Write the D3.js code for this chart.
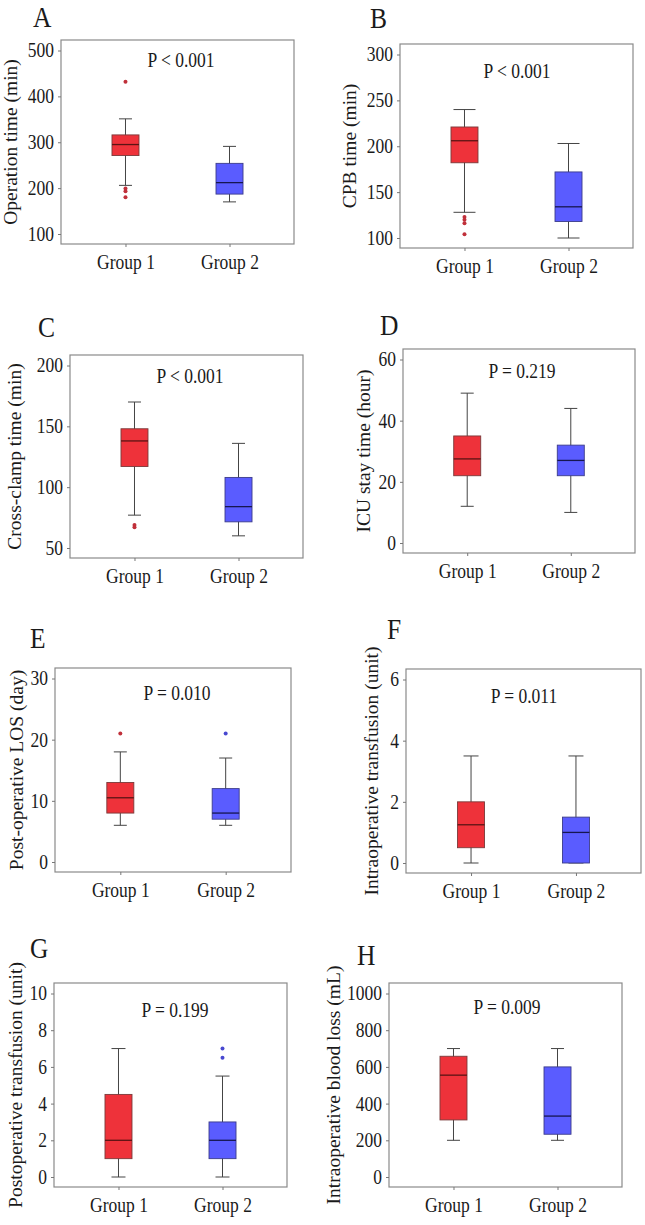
<!DOCTYPE html>
<html>
<head>
<meta charset="utf-8">
<script src="https://cdnjs.cloudflare.com/ajax/libs/d3/7.8.5/d3.min.js"></script>
<style>
  body { margin: 0; background: #fff; }
  svg text { font-family: "Liberation Serif", "Times New Roman", serif; fill: #1a1a1a; }
</style>
</head>
<body>
<div id="chart"></div>
<script>
//----------------------------------
// Data
//----------------------------------
const groups = ["Group 1", "Group 2"];
const panelLetters = ["A", "B", "C", "D", "E", "F", "G", "H"];
const yLabels = [
    "Operation time (min)",
    "CPB time (min)",
    "Cross-clamp time (min)",
    "ICU stay time (hour)",
    "Post-operative LOS (day)",
    "Intraoperative transfusion (unit)",
    "Postoperative transfusion (unit)",
    "Intraoperative blood loss (mL)"
];
const pTexts = ["P < 0.001", "P < 0.001", "P < 0.001", "P = 0.219", "P = 0.010", "P = 0.011", "P = 0.199", "P = 0.009"];
const yTicks = [
    [100, 200, 300, 400, 500],
    [100, 150, 200, 250, 300],
    [50, 100, 150, 200],
    [0, 20, 40, 60],
    [0, 10, 20, 30],
    [0, 2, 4, 6],
    [0, 2, 4, 6, 8, 10],
    [0, 200, 400, 600, 800, 1000]
];

// box statistics, [Group 1, Group 2] for each panel
const whiskerLow  = [[206, 170], [128, 100], [77, 60],   [12, 10],   [6, 6],     [0, 0],     [0, 0],   [200, 200]];
const q1          = [[271, 187], [182, 118], [117, 71.5],[22, 22],   [8, 7],     [0.5, 0],   [1, 1],   [311, 233]];
const medians     = [[295, 212], [206, 134], [138, 84],  [27.5, 27], [10.5, 8],  [1.25, 1],  [2, 2],   [555, 332]];
const q3          = [[316, 254], [221, 172], [148, 108], [35, 32],   [13, 12],   [2, 1.5],   [4.5, 3], [658, 600]];
const whiskerHigh = [[351, 291], [240, 203], [170, 136], [49, 44],   [18, 17],   [3.5, 3.5], [7, 5.5], [700, 700]];
const outliers = [
    [[432, 199, 193, 180], []],
    [[123, 120, 116, 104], []],
    [[69, 67], []],
    [[], []],
    [[21], [21]],
    [[], []],
    [[], [7, 6.5]],
    [[], []]
];

//----------------------------------
// Layout (pixels)
//----------------------------------
const frames = [
    {left: 61,  top: 40,  right: 294, bottom: 244,  letterX: 33,  letterY: 27,  pX: 181, pY: 67,   labelX: 16.5},
    {left: 400, top: 44,  right: 633, bottom: 248,  letterX: 370, letterY: 28,  pX: 517, pY: 78,   labelX: 356},
    {left: 70,  top: 355, right: 303, bottom: 558,  letterX: 38,  letterY: 337, pX: 190, pY: 383,  labelX: 21},
    {left: 403, top: 349, right: 635, bottom: 553,  letterX: 380, letterY: 335, pX: 522, pY: 378,  labelX: 370},
    {left: 55,  top: 668, right: 291, bottom: 872,  letterX: 30,  letterY: 648, pX: 177, pY: 700,  labelX: 23},
    {left: 406, top: 669, right: 641, bottom: 873,  letterX: 387, letterY: 639, pX: 524, pY: 703,  labelX: 378},
    {left: 54,  top: 983, right: 287, bottom: 1187, letterX: 30,  letterY: 958, pX: 175, pY: 1017, labelX: 21.5},
    {left: 389, top: 983, right: 622, bottom: 1187, letterX: 357, letterY: 965, pX: 507, pY: 1014, labelX: 340}
];
const capWidths = [13, 22, 13, 13, 13, 15, 14, 13];
const boxWidth = 27;
const fills = ["#ee323a", "#5a5cff"];
const strokes = ["#7a3a3a", "#3c3c8a"];
const medianColors = ["#5a1414", "#161650"];
const dotColors = ["#c0303a", "#4848d0"];
const serif = '"Liberation Serif", "Times New Roman", serif';

const svg = d3.select("#chart")
    .append("svg")
    .attr("width", 645)
    .attr("height", 1225);

// The reference type is a bit taller than it is wide: squeeze the glyphs sideways
function squeeze(sel, k) {
    sel.each(function() {
        const w = this.getComputedTextLength();
        d3.select(this)
            .attr("textLength", w * k)
            .attr("lengthAdjust", "spacingAndGlyphs");
    });
}

panelLetters.forEach((letter, i) => {
    const f = frames[i];
    const g = svg.append("g");

    const y = d3.scaleLinear()
        .domain(d3.extent(yTicks[i]))
        .range([f.bottom - 10, f.top + 10.5]);
    const x = d3.scalePoint()
        .domain(groups)
        .range([f.left, f.right])
        .padding(0.62);

    // frame
    g.append("rect")
        .attr("x", f.left).attr("y", f.top)
        .attr("width", f.right - f.left).attr("height", f.bottom - f.top)
        .attr("fill", "none")
        .attr("stroke", "#8a8a8a")
        .attr("stroke-width", 1.2);

    // axes
    g.append("g")
        .attr("transform", `translate(${f.left},0)`)
        .call(d3.axisLeft(y).tickValues(yTicks[i]).tickSize(3).tickPadding(4).tickFormat(d3.format("d")))
        .call(a => a.select(".domain").remove())
        .call(a => a.selectAll("line").attr("stroke", "#777"))
        .call(a => a.selectAll("text").style("font-size", "20px").style("font-family", serif).call(squeeze, 0.875));

    g.append("g")
        .attr("transform", `translate(0,${f.bottom})`)
        .call(d3.axisBottom(x).tickSize(3).tickPadding(8))
        .call(a => a.select(".domain").remove())
        .call(a => a.selectAll("line").attr("stroke", "#777"))
        .call(a => a.selectAll("text").style("font-size", "20px").style("font-family", serif).call(squeeze, 0.875));

    // boxes
    groups.forEach((grp, j) => {
        const cx = x(grp);
        g.append("line")
            .attr("x1", cx).attr("x2", cx)
            .attr("y1", y(whiskerLow[i][j])).attr("y2", y(whiskerHigh[i][j]))
            .attr("stroke", "#444").attr("stroke-width", 1);
        [whiskerLow[i][j], whiskerHigh[i][j]].forEach(v => {
            g.append("line")
                .attr("x1", cx - capWidths[i] / 2).attr("x2", cx + capWidths[i] / 2)
                .attr("y1", y(v)).attr("y2", y(v))
                .attr("stroke", "#444").attr("stroke-width", 1);
        });
        g.append("rect")
            .attr("x", cx - boxWidth / 2)
            .attr("y", y(q3[i][j]))
            .attr("width", boxWidth)
            .attr("height", Math.max(y(q1[i][j]) - y(q3[i][j]), 0.5))
            .attr("fill", fills[j])
            .attr("stroke", strokes[j])
            .attr("stroke-width", 0.9);
        g.append("line")
            .attr("x1", cx - boxWidth / 2).attr("x2", cx + boxWidth / 2)
            .attr("y1", y(medians[i][j])).attr("y2", y(medians[i][j]))
            .attr("stroke", medianColors[j]).attr("stroke-width", 1.3);
        g.selectAll(null)
            .data(outliers[i][j])
            .enter().append("circle")
            .attr("cx", cx)
            .attr("cy", d => y(d))
            .attr("r", 2)
            .attr("fill", dotColors[j]);
    });

    // texts
    g.append("text")
        .attr("x", f.letterX).attr("y", f.letterY)
        .style("font-size", "30px")
        .text(letter)
        .call(squeeze, 0.85);

    g.append("text")
        .attr("x", f.pX).attr("y", f.pY)
        .attr("text-anchor", "middle")
        .style("font-size", "20px")
        .text(pTexts[i])
        .call(squeeze, 0.875);

    g.append("text")
        .attr("transform", "rotate(-90)")
        .attr("x", -(f.top + f.bottom) / 2)
        .attr("y", f.labelX)
        .attr("text-anchor", "middle")
        .style("font-size", "19.5px")
        .text(yLabels[i]);
});
</script>
</body>
</html>
